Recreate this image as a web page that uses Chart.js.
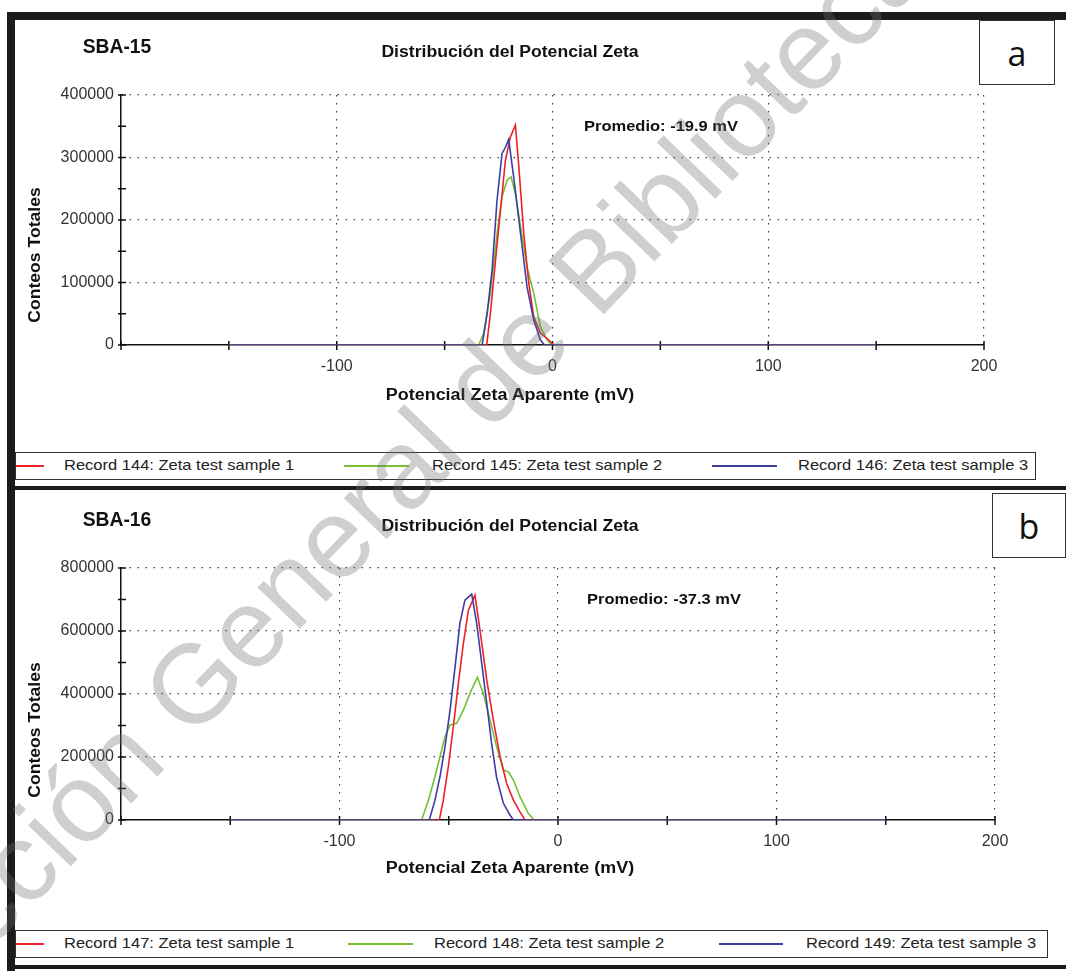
<!DOCTYPE html>
<html>
<head>
<meta charset="utf-8">
<script src="https://cdn.jsdelivr.net/npm/chart.js@4.4.1/dist/chart.umd.min.js"></script>
<style>
html, body { margin: 0; padding: 0; background: #fff; }
#page { position: relative; width: 1066px; height: 971px; overflow: hidden; background: #fff;
        font-family: 'Liberation Sans', Arial, sans-serif; color: #111; }
.bar { position: absolute; background: #1c1c1c; }
canvas.chart { position: absolute; left: 0; }
.txt { position: absolute; white-space: nowrap; transform: translate(-50%, -50%); }
.bold { font-weight: bold; }
.letter { position: absolute; border: 1.5px solid #333; background: #fff; box-sizing: border-box;
          font-family: 'Open Sans', sans-serif; font-size: 34px; display: flex; align-items: center; justify-content: center; }
.legend { position: absolute; border: 1.5px solid #333; box-sizing: border-box; background: #fff; }
.legend .sample { position: absolute; height: 2px; top: 12px; }
.legend .label { position: absolute; top: 3px; font-size: 15px; color: #222; transform: scaleX(1.1); transform-origin: left center; white-space: nowrap; }
#wm { position: absolute; left: 0; top: 0; pointer-events: none; }
</style>
</head>
<body>
<div id="page">
  <canvas id="chartA" class="chart" width="1066" height="490" style="top:0;width:1066px;height:490px"></canvas>
  <canvas id="chartB" class="chart" width="1066" height="481" style="top:490px;width:1066px;height:481px"></canvas>

  <div class="bar" style="left:7px;top:12px;width:1059px;height:8px"></div>
  <div class="bar" style="left:7px;top:12px;width:8px;height:959px"></div>
  <div class="bar" style="left:7px;top:486px;width:1059px;height:4px"></div>
  <div class="bar" style="left:7px;top:965px;width:1059px;height:4px"></div>

  <div class="letter" style="left:979px;top:20px;width:76px;height:65px">a</div>
  <div class="letter" style="left:992px;top:493px;width:74px;height:65px">b</div>

  <div class="txt bold" style="left:117px;top:46px;font-size:21px;transform:translate(-50%,-50%) scaleX(0.92)">SBA-15</div>
  <div class="txt bold" style="left:117px;top:519px;font-size:21px;transform:translate(-50%,-50%) scaleX(0.92)">SBA-16</div>
  <div class="txt bold" style="left:510px;top:52px;font-size:16px;transform:translate(-50%,-50%) scaleX(1.1)">Distribución del Potencial Zeta</div>
  <div class="txt bold" style="left:510px;top:526px;font-size:16px;transform:translate(-50%,-50%) scaleX(1.1)">Distribución del Potencial Zeta</div>
  <div class="txt bold" style="left:661px;top:125px;font-size:15px;transform:translate(-50%,-50%) scaleX(1.1)">Promedio: -19.9 mV</div>
  <div class="txt bold" style="left:664px;top:598px;font-size:15px;transform:translate(-50%,-50%) scaleX(1.1)">Promedio: -37.3 mV</div>
  <div class="txt bold" style="left:510px;top:395px;font-size:16px;transform:translate(-50%,-50%) scaleX(1.12)">Potencial Zeta Aparente (mV)</div>
  <div class="txt bold" style="left:510px;top:868px;font-size:16px;transform:translate(-50%,-50%) scaleX(1.12)">Potencial Zeta Aparente (mV)</div>
  <div class="txt bold" style="left:35px;top:255px;font-size:16px;transform:translate(-50%,-50%) rotate(-90deg) scaleX(1.1)">Conteos Totales</div>
  <div class="txt bold" style="left:35px;top:730px;font-size:16px;transform:translate(-50%,-50%) rotate(-90deg) scaleX(1.1)">Conteos Totales</div>

  <div id="legendA" class="legend" style="left:15px;top:452px;width:1021px;height:28px"></div>
  <div id="legendB" class="legend" style="left:15px;top:930px;width:1033px;height:28px"></div>

  <canvas id="wm" width="1066" height="971"></canvas>
</div>

<script>
// x axis (mV)
const xMin = -200, xMax = 200, xStep = 50;
const xTickLabels = [-100, 0, 100, 200];

// SBA-15, records 144-146
const mv144 = [-150, -30.5, -28.8, -26.4, -24.1, -21.8, -19.5, -17.2, -15.6, -13.3, -11, -8.7, -5.6, -1.7, 0.6, 150];
const counts144 = [0, 0, 50000, 136000, 216000, 296000, 333000, 352000, 285000, 178000, 99000, 45000, 19000, 8000, 0, 0];
const mv145 = [-150, -34.2, -31.9, -28.8, -25.7, -23.4, -21, -19.2, -17.2, -14.8, -11.8, -8.7, -5.6, -2.5, -0.2, 150];
const counts145 = [0, 0, 19000, 83000, 178000, 237000, 264000, 269000, 242000, 189000, 125000, 83000, 29000, 8000, 0, 0];
const mv146 = [-150, -32.6, -30.3, -28, -25.7, -23.4, -21.6, -20.3, -18, -14.8, -11.8, -8.7, -5.6, -3.7, 150];
const counts146 = [0, 0, 50000, 120000, 232000, 306000, 318000, 329000, 269000, 178000, 93000, 40000, 8000, 0, 0];
const yTicksA = [0, 100000, 200000, 300000, 400000];

// SBA-16, records 147-149
const mv147 = [-150, -54.3, -52.5, -50.2, -47.9, -45.6, -43.3, -41, -38, -35.7, -32.6, -29.6, -26.5, -23.5, -20.4, -17.4, -15.1, 150];
const counts147 = [0, 0, 63000, 169000, 296000, 434000, 561000, 666000, 714000, 603000, 444000, 317000, 201000, 116000, 63000, 26000, 0, 0];
const mv148 = [-150, -62.4, -59.3, -56.3, -54, -51.7, -49.4, -46.4, -43.3, -40.3, -36.9, -34.2, -31.1, -28.1, -25, -22.7, -20.4, -17.4, -13.6, -11, 150];
const counts148 = [0, 0, 63000, 138000, 201000, 265000, 302000, 307000, 349000, 402000, 453000, 402000, 317000, 233000, 159000, 153000, 127000, 74000, 21000, 0, 0];
const mv149 = [-150, -58.9, -56.3, -54, -51.7, -49.4, -47.1, -44.9, -42.6, -39.5, -37.2, -34.9, -32.6, -30.4, -28.1, -25, -22, -20.4, 150];
const counts149 = [0, 0, 63000, 138000, 233000, 349000, 487000, 624000, 698000, 717000, 624000, 497000, 370000, 243000, 135000, 53000, 16000, 0, 0];
const yTicksB = [0, 200000, 400000, 600000, 800000];

const labelsA = ['Record 144: Zeta test sample 1', 'Record 145: Zeta test sample 2', 'Record 146: Zeta test sample 3'];
const labelsB = ['Record 147: Zeta test sample 1', 'Record 148: Zeta test sample 2', 'Record 149: Zeta test sample 3'];
const colors = ['#ec2227', '#74c032', '#3b3fa6'];
// blue drawn last (on top), then red, then green
const drawOrder = [1, 2, 0];

function pairs(xs, ys) {
    return xs.map((x, i) => ({ x: x, y: ys[i] }));
}

// tick marks that cross the axis lines, like the instrument software draws
const crossTicks = {
    id: 'crossTicks',
    beforeDatasetsDraw(chart) {
        const { ctx, chartArea, scales } = chart;
        ctx.save();
        ctx.strokeStyle = '#111';
        ctx.lineWidth = 1.5;
        ctx.beginPath();
        scales.x.ticks.forEach(t => {
            const px = scales.x.getPixelForValue(t.value);
            ctx.moveTo(px, chartArea.bottom - 4);
            ctx.lineTo(px, chartArea.bottom + 5);
        });
        scales.y.ticks.forEach(t => {
            const py = scales.y.getPixelForValue(t.value);
            ctx.moveTo(chartArea.left - 3, py);
            ctx.lineTo(chartArea.left + 5, py);
        });
        ctx.stroke();
        ctx.restore();
    }
};

function makeChart(id, series, labels, yMax, yStep, yTicks, pad) {
    const datasets = series.map((s, i) => ({
        label: labels[i],
        data: pairs(s[0], s[1]),
        borderColor: colors[i],
        backgroundColor: colors[i],
        borderWidth: 1.6,
        pointRadius: 0,
        tension: 0,
        order: drawOrder[i]
    }));
    return new Chart(document.getElementById(id), {
        type: 'line',
        data: { datasets: datasets },
        plugins: [crossTicks],
        options: {
            responsive: false,
            devicePixelRatio: 1,
            animation: false,
            layout: { padding: pad },
            plugins: { legend: { display: false }, tooltip: { enabled: false } },
            scales: {
                x: {
                    type: 'linear',
                    min: xMin,
                    max: xMax,
                    afterFit: s => { s.height = 30; },
                    ticks: {
                        stepSize: xStep,
                        autoSkip: false,
                        maxRotation: 0,
                        padding: 12,
                        color: '#333',
                        font: { family: 'Liberation Sans', size: 16 },
                        callback: v => xTickLabels.includes(v) ? String(v) : ''
                    },
                    grid: {
                        drawTicks: false,
                        lineWidth: 1.2,
                        color: c => (c.tick && xTickLabels.includes(c.tick.value)) ? '#444' : 'rgba(0,0,0,0)'
                    },
                    border: { color: '#111', width: 1.5, dash: [1.5, 6.5] }
                },
                y: {
                    min: 0,
                    max: yMax,
                    afterFit: s => { s.width = 121; },
                    ticks: {
                        stepSize: yStep,
                        autoSkip: false,
                        padding: 7,
                        color: '#333',
                        font: { family: 'Liberation Sans', size: 16 },
                        callback: v => yTicks.includes(v) ? String(v) : ''
                    },
                    grid: {
                        drawTicks: false,
                        lineWidth: 1.2,
                        color: c => (c.tick && c.tick.value > 0 && yTicks.includes(c.tick.value)) ? '#444' : 'rgba(0,0,0,0)'
                    },
                    border: { color: '#111', width: 1.5, dash: [1.5, 6.5] }
                }
            }
        }
    });
}

function buildLegend(el, chart, spots) {
    chart.data.datasets.forEach((ds, i) => {
        const line = document.createElement('div');
        line.className = 'sample';
        line.style.left = spots[i][0] + 'px';
        line.style.width = spots[i][1] + 'px';
        line.style.background = ds.borderColor;
        el.appendChild(line);
        const txt = document.createElement('div');
        txt.className = 'label';
        txt.style.left = spots[i][2] + 'px';
        txt.textContent = ds.label;
        el.appendChild(txt);
    });
}

function drawWatermark() {
    const ctx = document.getElementById('wm').getContext('2d');
    ctx.save();
    ctx.translate(-155, 1100);
    ctx.rotate(-46 * Math.PI / 180);
    ctx.font = '112px "Liberation Sans"';
    ctx.fillStyle = 'rgba(110,110,110,0.33)';
    ctx.textBaseline = 'alphabetic';
    ctx.fillText('Dirección General de Bibliotecas', 0, 0);
    ctx.restore();
}

document.addEventListener('DOMContentLoaded', () => {
    const chartA = makeChart('chartA',
        [[mv144, counts144], [mv145, counts145], [mv146, counts146]],
        labelsA, 400000, 50000, yTicksA,
        { left: 0, top: 95, right: 82, bottom: 115 });
    const chartB = makeChart('chartB',
        [[mv147, counts147], [mv148, counts148], [mv149, counts149]],
        labelsB, 800000, 100000, yTicksB,
        { left: 0, top: 78, right: 71, bottom: 121 });

    // legend spots: [line left, line width, text left] relative to the box
    buildLegend(document.getElementById('legendA'), chartA, [[0, 28, 48], [328, 65, 416], [696, 65, 782]]);
    buildLegend(document.getElementById('legendB'), chartB, [[0, 28, 48], [332, 65, 418], [703, 64, 790]]);

    drawWatermark();
});
</script>
</body>
</html>
